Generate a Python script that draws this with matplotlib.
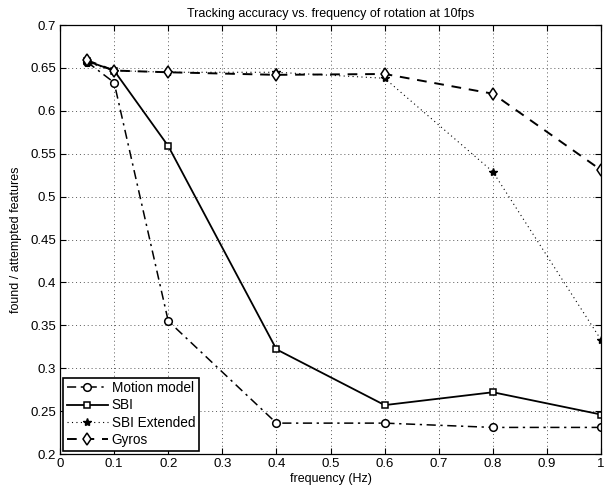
import numpy as np
import matplotlib.pyplot as plt

plt.rcParams['font.family'] = ['Liberation Sans', 'DejaVu Sans']

freq = [0.05, 0.1, 0.2, 0.4, 0.6, 0.8, 1.0]
motion_model = [0.657, 0.633, 0.355, 0.236, 0.236, 0.231, 0.231]
sbi = [0.658, 0.647, 0.559, 0.322, 0.257, 0.272, 0.246]
sbi_extended = [0.656, 0.647, 0.645, 0.645, 0.638, 0.529, 0.333]
gyros = [0.659, 0.647, 0.645, 0.642, 0.643, 0.620, 0.531]

fig = plt.figure(figsize=(6.1, 4.93), dpi=100)
ax = fig.add_axes([0.0984, 0.0791, 0.887, 0.870])

ax.plot(freq, motion_model, color='k', linestyle=(0, (6, 3, 1.5, 3)), lw=1.1, marker='o', ms=5.5,
        mfc='white', mec='k', mew=1.1, label='Motion model')
ax.plot(freq, sbi, color='k', linestyle='-', lw=1.3, marker='s', ms=4.5,
        mfc='white', mec='k', mew=1.1, label='SBI')
ax.plot(freq, sbi_extended, color='k', linestyle=(0, (1, 3)), lw=0.8, marker='*', ms=6,
        mfc='k', mec='k', label='SBI Extended')
ax.plot(freq, gyros, color='k', linestyle=(0, (5, 4)), lw=1.4, marker='d', ms=6,
        mfc='white', mec='k', mew=1.1, label='Gyros')

ax.set_xlim(0, 1)
ax.set_ylim(0.2, 0.7)
ax.set_xticks(np.arange(0, 1.01, 0.1))
ax.set_xticklabels(['0', '0.1', '0.2', '0.3', '0.4', '0.5', '0.6', '0.7', '0.8', '0.9', '1'])
ax.set_yticks(np.arange(0.2, 0.701, 0.05))
ax.set_yticklabels(['0.2', '0.25', '0.3', '0.35', '0.4', '0.45', '0.5', '0.55', '0.6', '0.65', '0.7'])
ax.tick_params(direction='in', top=True, right=True, labelsize=9.5, length=4, pad=3)
ax.grid(True, linestyle=(0, (1, 3)), color='0.35', lw=0.7)
for s in ax.spines.values():
    s.set_linewidth(0.9)

ax.set_xlabel('frequency (Hz)', fontsize=9, labelpad=2)
ax.set_ylabel('found / attempted features', fontsize=9, labelpad=6)
ax.set_title('Tracking accuracy vs. frequency of rotation at 10fps', fontsize=9, pad=6)

leg = ax.legend(loc='lower left', fontsize=9.8, fancybox=False, framealpha=1,
                edgecolor='k', borderpad=0.25, labelspacing=0.25, handlelength=3.0,
                handletextpad=0.3, borderaxespad=0.25)
leg.get_frame().set_linewidth(1.2)

fig.savefig('out.png', dpi=100)
